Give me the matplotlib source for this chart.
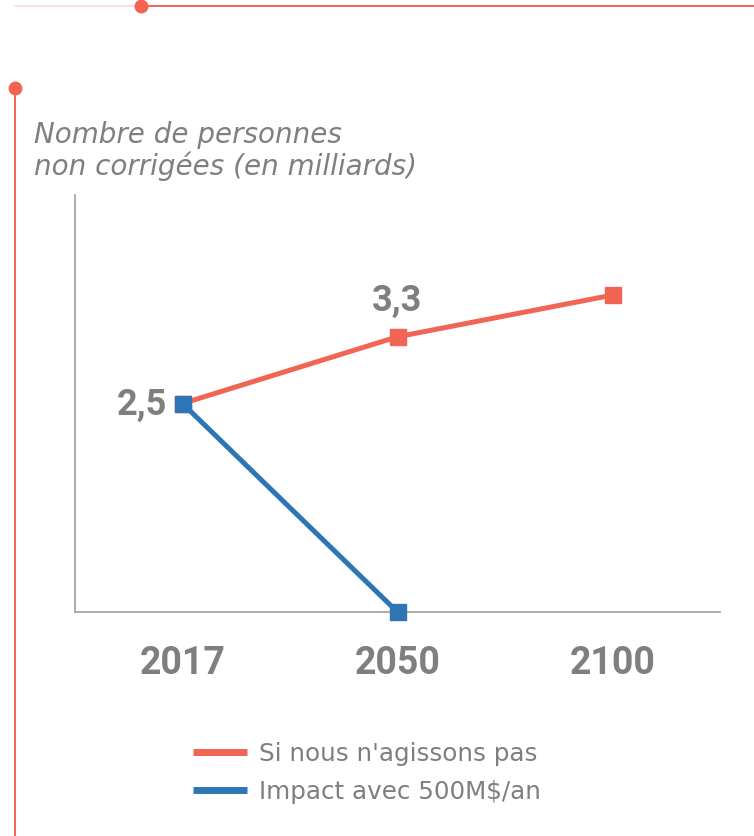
import matplotlib
matplotlib.use("Agg")
import matplotlib.pyplot as plt
from matplotlib.lines import Line2D
from matplotlib.font_manager import fontManager

years = ["2017", "2050", "2100"]
no_action = [2.5, 3.3, 3.8]
impact = [2.5, 0.0]
series_names = ["Si nous n'agissons pas", "Impact avec 500M$/an"]
labels_no_action = ["2,5", "3,3"]
title_text = "Nombre de personnes\nnon corrigées (en milliards)"

RED = "#F26454"
BLUE = "#2E75B6"
GRAY = "#7F7F7F"
AXGRAY = "#A6A6A6"

names = {f.name for f in fontManager.ttflist}
narrow = "Liberation Sans Narrow" if "Liberation Sans Narrow" in names else "Roboto"
base = "DejaVu Sans"
boldf = "Roboto" if "Roboto" in names else "DejaVu Sans"

fig = plt.figure(figsize=(7.54, 8.36), dpi=100)
W, H = 754, 836
ax = fig.add_axes([75 / W, 1 - 612 / H, (720 - 75) / W, (612 - 195) / H])

x_all = list(range(len(years)))
l1, = ax.plot(x_all, no_action, color=RED, lw=3.6, marker="s", ms=12, zorder=3,
              clip_on=False, label=series_names[0])
l2, = ax.plot(x_all[:len(impact)], impact, color=BLUE, lw=3.6, marker="s", ms=12,
              zorder=4, clip_on=False, label=series_names[1])

ax.set_xlim(-0.5, 2.5)
ax.set_ylim(0, 5)
ax.set_yticks([])
ax.set_xticks(x_all)
ax.set_xticklabels(years, fontsize=27, fontweight="bold", color=GRAY,
                   family=narrow)
ax.tick_params(axis="x", length=0, pad=24)
for s in ["top", "right"]:
    ax.spines[s].set_visible(False)
for s in ["left", "bottom"]:
    ax.spines[s].set_color(AXGRAY)
    ax.spines[s].set_linewidth(1.3)

# data labels
ax.annotate(labels_no_action[0], (0, no_action[0]), xytext=(-11, -1),
            textcoords="offset points", ha="right", va="center",
            fontsize=26, fontweight="bold", color=GRAY, family=boldf)
ax.annotate(labels_no_action[1], (1, no_action[1]), xytext=(0, 26),
            textcoords="offset points", ha="center", va="center",
            fontsize=26, fontweight="bold", color=GRAY, family=boldf)

# title
fig.text(34 / W, 1 - 121 / H, title_text, ha="left", va="top", fontsize=20,
         style="italic", color=GRAY, family=base, linespacing=1.12)

# legend (manual, in figure pixels)
for yy, col, name in [(752, RED, series_names[0]), (790, BLUE, series_names[1])]:
    fig.add_artist(Line2D([193 / W, 247 / W], [1 - yy / H, 1 - yy / H],
                          color=col, lw=5, solid_capstyle="butt",
                          transform=fig.transFigure))
    fig.text(259 / W, 1 - yy / H, name, ha="left", va="center_baseline",
             fontsize=17.7, color=GRAY, family=base)

# decorations
fig.add_artist(Line2D([15 / W, 141 / W], [1 - 6 / H, 1 - 6 / H],
                      color="#F9D9D4", lw=1.2, transform=fig.transFigure))
fig.add_artist(Line2D([141 / W, 1], [1 - 6 / H, 1 - 6 / H],
                      color=RED, lw=1.4, transform=fig.transFigure))
fig.add_artist(Line2D([141 / W], [1 - 6 / H], marker="o", ms=9,
                      color=RED, transform=fig.transFigure))
fig.add_artist(Line2D([15 / W, 15 / W], [1 - 88 / H, 0],
                      color=RED, lw=1.4, transform=fig.transFigure))
fig.add_artist(Line2D([15 / W], [1 - 88 / H], marker="o", ms=9,
                      color=RED, transform=fig.transFigure))

fig.savefig("out.png", dpi=100)
